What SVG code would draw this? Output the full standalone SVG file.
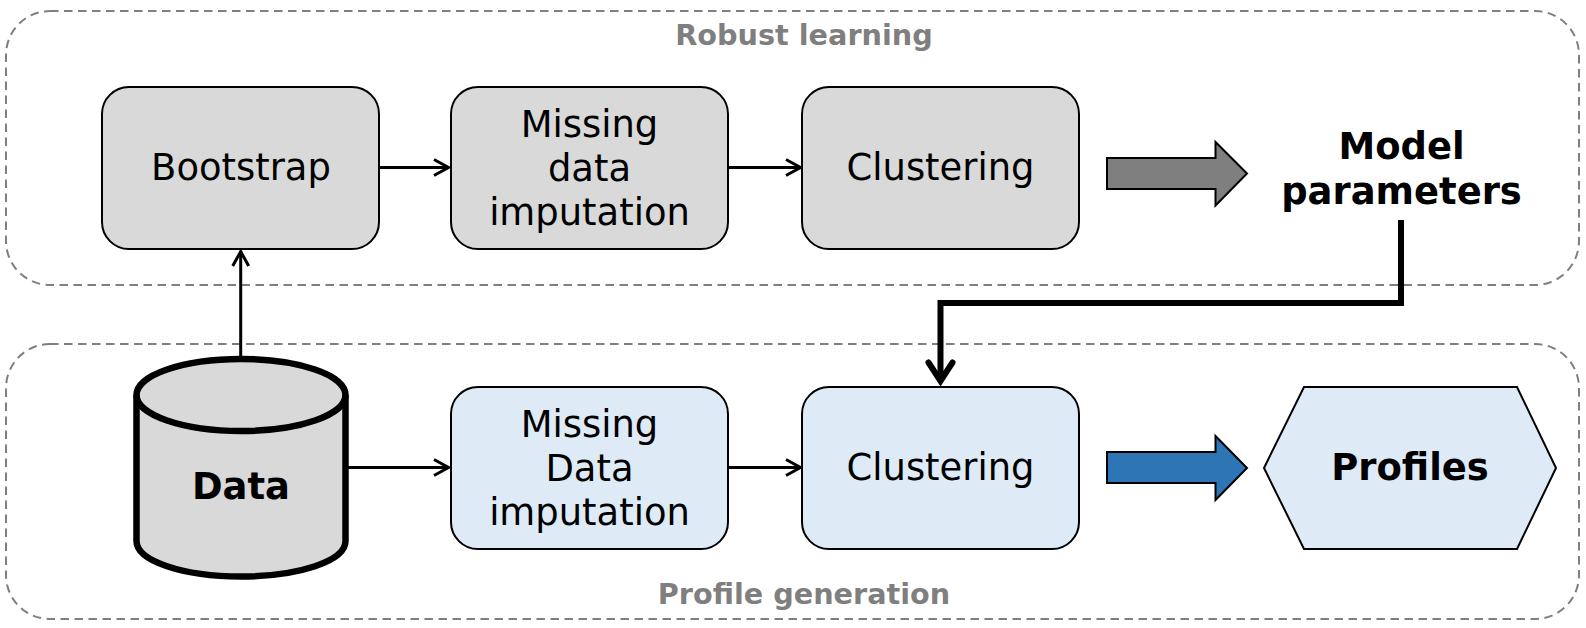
<svg xmlns="http://www.w3.org/2000/svg" width="1586" height="628" viewBox="0 0 1586 628">
<style>
text{font-family:"DejaVu Sans",sans-serif;text-anchor:middle;fill:#000}
.lbl{font-size:36.9px}
.b{font-size:36.9px;font-weight:bold}
.cap{font-size:28.7px;font-weight:bold;fill:#7f7f7f}
.grp{fill:none;stroke:#7f7f7f;stroke-width:2;stroke-dasharray:8.5 5.5}
.gray{fill:#d9d9d9;stroke:#000;stroke-width:2}
.blue{fill:#deebf7;stroke:#000;stroke-width:2}
.c{fill:none;stroke:#000;stroke-width:3}
</style>
<rect width="1586" height="628" fill="#fff"/>
<g id="group-robust"><rect class="grp" x="6" y="11" width="1573" height="274" rx="44"/><text class="cap" x="804" y="45">Robust learning</text></g>
<g id="group-profile"><rect class="grp" x="6" y="344" width="1573" height="275" rx="44"/><text class="cap" x="804" y="604">Profile generation</text></g>
<g id="connectors">
<path class="c" d="M379 167.500H449"/><path class="c" d="M434 159.500l14.500 8-14.500 8"/>
<path class="c" d="M728 167.500H801"/><path class="c" d="M786 159.500l14.500 8-14.500 8"/>
<path class="c" d="M240.700 357V251"/><path class="c" d="M232.700 266l8-14.500 8 14.500"/>
<path class="c" d="M348 467.500H449"/><path class="c" d="M434 459.500l14.500 8-14.500 8"/>
<path class="c" d="M728 467.500H801"/><path class="c" d="M786 459.500l14.500 8-14.500 8"/>
<path fill="none" stroke="#000" stroke-width="6" d="M1401 220V303H940.500V380"/>
<path fill="none" stroke="#000" stroke-width="6" stroke-linecap="round" d="M928.500 362.500L940.500 381L952.500 362.500"/>
<path fill="#7f7f7f" stroke="#000" stroke-width="2" d="M1107 158H1215.500V142L1247 173.500L1215.500 205.500V189H1107Z"/>
<path fill="#2e75b6" stroke="#000" stroke-width="2" d="M1107 452H1215.500V436L1247 468L1215.500 500V483H1107Z"/>
</g>
<g id="bootstrap"><rect class="gray" x="102" y="87" width="277" height="162" rx="27"/><text class="lbl" x="241" y="180">Bootstrap</text></g>
<g id="imputation-1"><rect class="gray" x="451" y="87" width="277" height="162" rx="27"/><text class="lbl" x="589.500" y="136.500">Missing</text><text class="lbl" x="589.500" y="180.500">data</text><text class="lbl" x="589.500" y="225">imputation</text></g>
<g id="clustering-1"><rect class="gray" x="802" y="87" width="277" height="162" rx="27"/><text class="lbl" x="940.500" y="180">Clustering</text></g>
<g id="model-parameters"><text class="b" x="1401.500" y="159">Model</text><text class="b" x="1401.500" y="203.500">parameters</text></g>
<g id="data"><path fill="#d9d9d9" stroke="#000" stroke-width="6.500" d="M136.500 395C136.500 375 183 359 241 359S345.500 375 345.500 395V541C345.500 561 299 576.500 241 576.500S136.500 561 136.500 541Z"/><path fill="none" stroke="#000" stroke-width="6.500" d="M136.500 395C136.500 415 183 431 241 431S345.500 415 345.500 395"/><text class="b" x="241" y="499">Data</text></g>
<g id="imputation-2"><rect class="blue" x="451" y="387" width="277" height="162" rx="27"/><text class="lbl" x="589.500" y="436.500">Missing</text><text class="lbl" x="589.500" y="480.500">Data</text><text class="lbl" x="589.500" y="525">imputation</text></g>
<g id="clustering-2"><rect class="blue" x="802" y="387" width="277" height="162" rx="27"/><text class="lbl" x="940.500" y="480">Clustering</text></g>
<g id="profiles"><path class="blue" d="M1264 468L1304 387H1517L1556 468L1517 549H1304Z"/><text class="b" x="1410" y="480">Profiles</text></g>
</svg>
